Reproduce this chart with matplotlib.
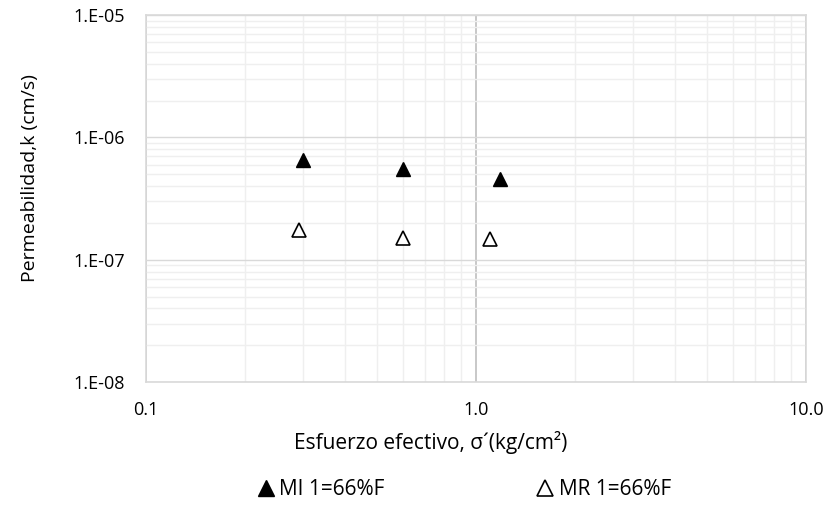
import numpy as np
import matplotlib.pyplot as plt
from matplotlib.ticker import FixedLocator, LogLocator, NullFormatter

plt.rcParams['font.family'] = ['Open Sans', 'DejaVu Sans']

# data
mi_x = [0.30, 0.60, 1.18]
mi_k = [6.5e-7, 5.5e-7, 4.55e-7]
mr_x = [0.29, 0.60, 1.10]
mr_k = [1.75e-7, 1.50e-7, 1.47e-7]

x_ticks = [0.1, 1.0, 10.0]
x_labels = ["0.1", "1.0", "10.0"]
y_ticks = [1e-8, 1e-7, 1e-6, 1e-5]
y_labels = ["1.E-08", "1.E-07", "1.E-06", "1.E-05"]

fig = plt.figure(figsize=(8.3, 5.07), dpi=100)
ax = fig.add_axes([0.176, 0.2465, 0.795, 0.7235])

ax.set_xscale('log')
ax.set_yscale('log')
ax.set_xlim(0.1, 10)
ax.set_ylim(1e-8, 1e-5)

ax.xaxis.set_major_locator(FixedLocator(x_ticks))
ax.set_xticklabels(x_labels)
ax.yaxis.set_major_locator(FixedLocator(y_ticks))
ax.set_yticklabels(y_labels)
ax.xaxis.set_minor_locator(LogLocator(base=10, subs=np.arange(2, 10)))
ax.yaxis.set_minor_locator(LogLocator(base=10, subs=np.arange(2, 10)))
ax.xaxis.set_minor_formatter(NullFormatter())
ax.yaxis.set_minor_formatter(NullFormatter())

ax.grid(which='minor', color='#efefef', linewidth=1.0)
ax.grid(which='major', axis='y', color='#d9d9d9', linewidth=1.0)
ax.grid(which='major', axis='x', color='#bfbfbf', linewidth=1.2)
ax.set_axisbelow(True)
ax.tick_params(which='both', length=0, labelsize=13, labelcolor='black')
ax.tick_params(axis='x', pad=14)
ax.tick_params(axis='y', pad=15)
for s in ax.spines.values():
    s.set_color('#d9d9d9')
    s.set_linewidth(1.2)

ax.plot(mi_x, mi_k, linestyle='none', marker='^', markersize=10,
        color='black', label='MI 1=66%F')
ax.plot(mr_x, mr_k, linestyle='none', marker='^', markersize=10,
        markerfacecolor='white', markeredgecolor='black', markeredgewidth=1.2,
        label='MR 1=66%F')

# excel places the titles a bit off-centre
ax.set_xlabel("Esfuerzo efectivo, σ´(kg/cm²)", fontsize=15)
ax.xaxis.set_label_coords(0.432, -0.133)
ax.set_ylabel("Permeabilidad,k (cm/s)", fontsize=14)
ax.yaxis.set_label_coords(-0.163, 0.555)

fig.legend(loc='center', bbox_to_anchor=(0.558, 0.034), ncol=2, frameon=False,
           fontsize=15, markerscale=1.15, handletextpad=0.15, handlelength=1.0,
           columnspacing=7.2)

fig.savefig('out.png', dpi=100)
